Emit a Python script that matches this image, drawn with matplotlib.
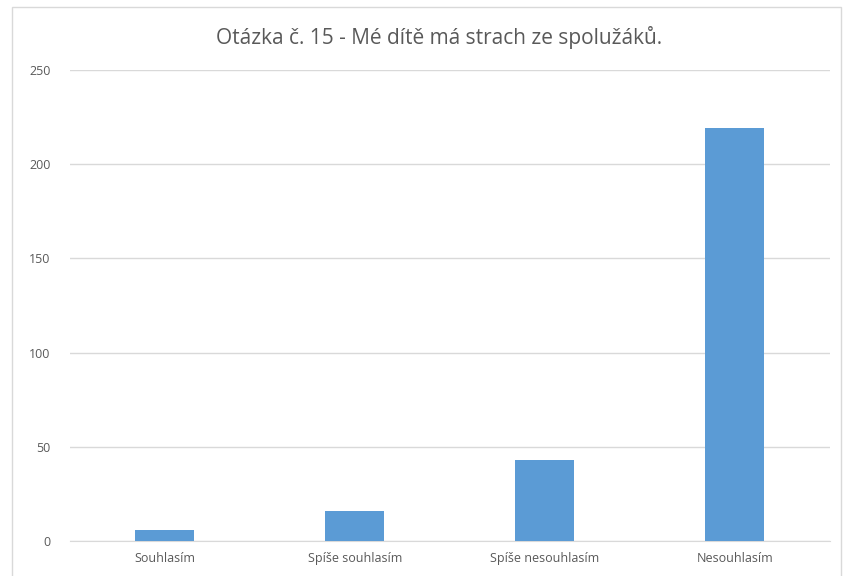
import matplotlib.pyplot as plt
from matplotlib.patches import Rectangle

categories = ['Souhlasím', 'Spíše souhlasím', 'Spíše nesouhlasím', 'Nesouhlasím']
values = [6, 16, 43, 219]
yticks = [0, 50, 100, 150, 200, 250]


def main():
    plt.rcParams['font.family'] = ['Open Sans', 'DejaVu Sans']
    fig = plt.figure(figsize=(8.52, 5.76), dpi=100)
    ax = fig.add_axes([0.082, 0.0608, 0.892, 0.8177])
    ax.bar(range(len(categories)), values, width=0.31, color='#5B9BD5', zorder=3)
    ax.set_xlim(-0.5, 3.5)
    ax.set_ylim(0, 250)
    ax.set_yticks(yticks)
    ax.set_xticks(range(len(categories)))
    ax.set_xticklabels(categories)
    ax.grid(axis='y', color='#D9D9D9', lw=1, zorder=0)
    for s in ['top', 'right', 'left']:
        ax.spines[s].set_visible(False)
    ax.spines['bottom'].set_color('#D9D9D9')
    ax.tick_params(axis='both', length=0, colors='#595959', labelsize=9)
    ax.tick_params(axis='y', pad=14)
    ax.tick_params(axis='x', pad=8)
    fig.text(0.515, 0.935, 'Otázka č. 15 - Mé dítě má strach ze spolužáků.',
             ha='center', va='center', fontsize=15, color='#595959')
    fig.patches.append(Rectangle((0.014, -0.01), 0.973, 0.998, transform=fig.transFigure,
                                 fill=False, edgecolor='#D9D9D9', lw=1))
    fig.savefig('out.png', dpi=100)


if __name__ == '__main__':
    main()
